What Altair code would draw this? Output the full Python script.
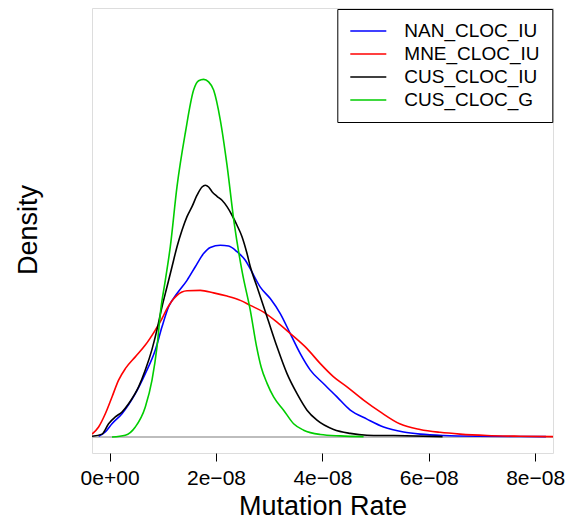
import altair as alt
import numpy as np
import pandas as pd

# Mutation rate in units of 1e-08, density in relative units (peak of CUS_CLOC_G = 1)
SERIES = ["NAN_CLOC_IU", "MNE_CLOC_IU", "CUS_CLOC_IU", "CUS_CLOC_G"]
COLORS = ["#0000FF", "#FF0000", "#000000", "#00CD00"]

nan_x = [-0.207, -0.081, 0.045, 0.233, 0.483, 0.671, 0.859, 0.985, 1.109, 1.267, 1.455, 1.611,
         1.767, 1.893, 2.081, 2.237, 2.395, 2.551, 2.645, 2.833, 3.020, 3.208, 3.396, 3.584,
         3.773, 4.023, 4.274, 4.524, 4.838, 5.150, 5.526, 5.840, 6.278, 6.906, 8.203]
nan_y = [0.002, 0.014, 0.037, 0.065, 0.121, 0.177, 0.243, 0.308, 0.364, 0.401, 0.438, 0.476,
         0.513, 0.530, 0.536, 0.534, 0.518, 0.494, 0.470, 0.419, 0.387, 0.345, 0.289, 0.233,
         0.187, 0.149, 0.112, 0.075, 0.050, 0.028, 0.014, 0.008, 0.004, 0.002, 0.001]

mne_x = [-0.331, -0.207, -0.081, 0.045, 0.169, 0.295, 0.483, 0.671, 0.859, 0.985, 1.079, 1.267,
         1.455, 1.705, 1.955, 2.207, 2.457, 2.645, 2.895, 3.147, 3.397, 3.711, 3.961, 4.211,
         4.462, 4.774, 5.088, 5.464, 5.836, 6.212, 6.588, 7.094, 7.720, 8.378]
mne_y = [0.008, 0.028, 0.065, 0.112, 0.159, 0.191, 0.224, 0.257, 0.299, 0.331, 0.359, 0.396,
         0.409, 0.410, 0.403, 0.394, 0.382, 0.368, 0.349, 0.321, 0.289, 0.247, 0.205, 0.168,
         0.140, 0.103, 0.070, 0.036, 0.021, 0.013, 0.008, 0.004, 0.002, 0.001]

cusiu_x = [-0.331, -0.143, -0.019, 0.107, 0.233, 0.357, 0.545, 0.671, 0.797, 0.891, 0.985, 1.079,
           1.173, 1.267, 1.361, 1.455, 1.549, 1.643, 1.737, 1.799, 1.861, 1.925, 2.019, 2.113,
           2.207, 2.301, 2.395, 2.489, 2.583, 2.645, 2.771, 2.959, 3.147, 3.335, 3.523, 3.711,
           3.898, 4.211, 4.524, 4.838, 5.338, 6.259]
cusiu_y = [0.002, 0.008, 0.037, 0.056, 0.070, 0.093, 0.140, 0.187, 0.245, 0.300, 0.364, 0.420,
           0.476, 0.532, 0.578, 0.616, 0.644, 0.676, 0.699, 0.704, 0.699, 0.686, 0.673, 0.662,
           0.644, 0.620, 0.592, 0.560, 0.513, 0.476, 0.420, 0.336, 0.252, 0.177, 0.121, 0.075,
           0.047, 0.021, 0.010, 0.005, 0.004, 0.001]

cusg_x = [0.045, 0.295, 0.483, 0.671, 0.797, 0.891, 0.960, 1.047, 1.141, 1.267, 1.423, 1.579,
          1.673, 1.767, 1.861, 1.955, 2.081, 2.207, 2.340, 2.494, 2.645, 2.760, 2.850, 2.960,
          3.083, 3.271, 3.459, 3.647, 3.961, 4.337, 4.774]
cusg_y = [0.000, 0.005, 0.028, 0.084, 0.159, 0.252, 0.354, 0.438, 0.532, 0.700, 0.850, 0.970,
          0.996, 1.000, 0.993, 0.970, 0.886, 0.760, 0.600, 0.460, 0.354, 0.255, 0.195, 0.150,
          0.112, 0.075, 0.037, 0.019, 0.007, 0.003, 0.001]

X_UNIT = 1e-8
xs = [nan_x, mne_x, cusiu_x, cusg_x]
ys = [nan_y, mne_y, cusiu_y, cusg_y]
frames = []
for name, xv, yv in zip(SERIES, xs, ys):
    frames.append(pd.DataFrame({"series": name,
                                "rate": np.array(xv) * X_UNIT,
                                "density": yv,
                                "order": range(len(xv))}))
df = pd.concat(frames, ignore_index=True)

X_DOMAIN = [-0.331 * X_UNIT, 8.335 * X_UNIT]
Y_DOMAIN = [-0.0448, 1.1995]
FONT = "Liberation Sans"

xscale = alt.Scale(domain=X_DOMAIN, nice=False, zero=False)
yscale = alt.Scale(domain=Y_DOMAIN, nice=False, zero=False)

baseline = alt.Chart(df).mark_rule(color="#BEBEBE", strokeWidth=1).encode(
    y=alt.datum(0, scale=yscale)
)

lines = alt.Chart(df).mark_line(strokeWidth=1.6, clip=True, interpolate="monotone").encode(
    x=alt.X("rate:Q", scale=xscale,
            axis=alt.Axis(values=[0, 2e-8, 4e-8, 6e-8, 8e-8],
                          labelExpr="datum.value == 0 ? '0e+00' : format(datum.value * 1e8, 'd') + 'e\u221208'",
                          title="Mutation Rate", titleFontSize=27, titleFont=FONT,
                          titleFontWeight="normal", titleColor="black",
                          titleY=61.3, titleBaseline="alphabetic",
                          labelFont=FONT, labelFontSize=21, labelColor="black",
                          labelPadding=6, tickSize=8, tickColor="black",
                          domain=False, grid=False, labelFlush=False, labelOverlap=False)),
    y=alt.Y("density:Q", scale=yscale,
            axis=alt.Axis(ticks=False, labels=False, domain=False, grid=False,
                          title="Density", titleFontSize=27, titleFont=FONT,
                          titleFontWeight="normal", titleColor="black",
                          titleX=-56, titleY=221.5, titleAngle=270,
                          titleAlign="center", titleBaseline="alphabetic")),
    color=alt.Color("series:N", scale=alt.Scale(domain=SERIES, range=COLORS),
                    legend=alt.Legend(title=None, orient="none", legendX=245.3, legendY=1,
                                      symbolType="M-1,0H3", symbolSize=324,
                                      symbolStrokeWidth=1.6, labelFont=FONT,
                                      labelFontSize=19, labelColor="black",
                                      labelOffset=35, padding=12, rowPadding=3,
                                      strokeColor="black", fillColor="white")),
    order="order:Q",
)

chart = alt.layer(baseline, lines).properties(
    width=461, height=445,
    autosize=alt.AutoSizeParams(type="none"),
    padding={"left": 92, "top": 8, "right": 17, "bottom": 72},
).configure_view(stroke="#444444", strokeWidth=1.2).configure(background="white")

chart.save("out.html", embed_options={"renderer": "svg", "actions": False})
